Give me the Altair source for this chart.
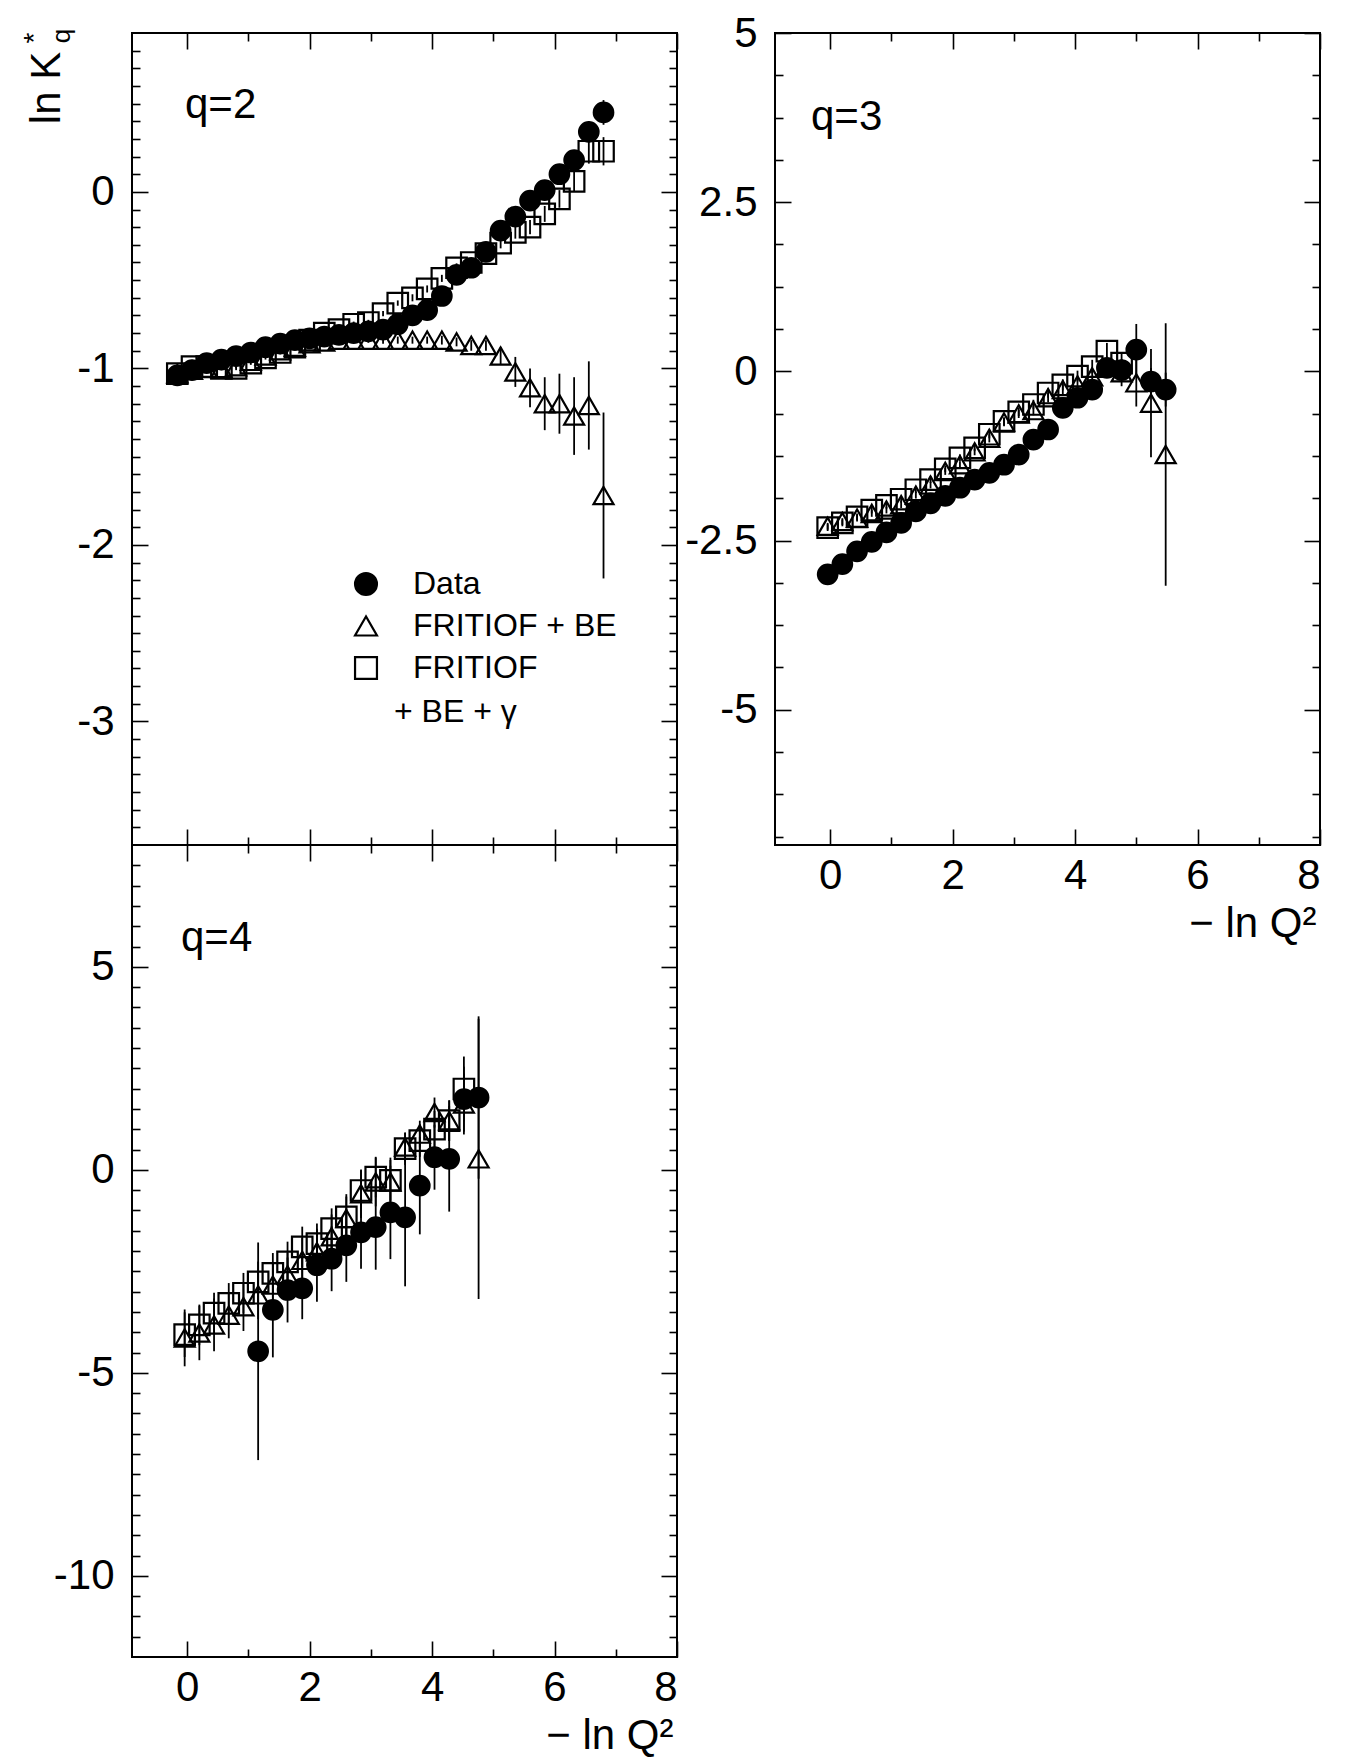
import altair as alt
import pandas as pd
import numpy as np

FONT = "Liberation Sans"

# ---- bins of -ln Q^2 ----
X = [-0.04, 0.20, 0.44, 0.68, 0.92, 1.16, 1.40, 1.64, 1.88, 2.12,
     2.36, 2.60, 2.84, 3.08, 3.32, 3.56, 3.80, 4.04, 4.28, 4.52,
     4.76, 5.00, 5.24, 5.48, 5.72, 5.96, 6.20, 6.44, 6.68, 6.92]
X_Q2 = [-0.16, 0.08, 0.32, 0.56, 0.80, 1.04, 1.28, 1.52, 1.76, 2.00,
        2.24, 2.48, 2.72, 2.96, 3.20, 3.44, 3.68, 3.92, 4.16, 4.40,
        4.64, 4.88, 5.12, 5.36, 5.60, 5.84, 6.08, 6.32, 6.56, 6.80]

SERIES = ["Data", "FRITIOF + BE", "FRITIOF + BE + γ"]

# ---- q = 2 ----
q2_data = [-1.04, -1.01, -0.97, -0.95, -0.93, -0.91, -0.88, -0.86, -0.84, -0.83,
           -0.82, -0.81, -0.80, -0.79, -0.78, -0.75, -0.70, -0.67, -0.59, -0.47,
           -0.43, -0.34, -0.22, -0.14, -0.05, 0.01, 0.10, 0.18, 0.34, 0.45]
q2_data_err = [0.01, 0.01, 0.01, 0.01, 0.01, 0.01, 0.01, 0.01, 0.01, 0.01,
               0.012, 0.012, 0.015, 0.015, 0.015, 0.02, 0.02, 0.02, 0.025, 0.025,
               0.03, 0.03, 0.035, 0.04, 0.04, 0.045, 0.05, 0.055, 0.06, 0.07]
q2_be = [-1.03, -1.01, -1.00, -1.00, -0.99, -0.96, -0.93, -0.90, -0.88, -0.86,
         -0.85, -0.84, -0.84, -0.84, -0.84, -0.84, -0.84, -0.84, -0.84, -0.85,
         -0.87, -0.87, -0.93, -1.02, -1.11, -1.20, -1.20, -1.27, -1.21, -1.72]
q2_be_err = [0.01, 0.01, 0.01, 0.01, 0.01, 0.01, 0.01, 0.012, 0.012, 0.012,
             0.015, 0.015, 0.015, 0.015, 0.02, 0.02, 0.02, 0.02, 0.025, 0.025,
             0.03, 0.03, 0.05, 0.085, 0.11, 0.15, 0.17, 0.22, 0.25, 0.47]
q2_beg = [-1.03, -0.99, -0.99, -1.00, -1.00, -0.97, -0.94, -0.91, -0.88, -0.84,
          -0.80, -0.78, -0.75, -0.74, -0.69, -0.63, -0.60, -0.55, -0.49, -0.43,
          -0.40, -0.35, -0.29, -0.23, -0.20, -0.125, -0.04, 0.06, 0.23, 0.23]
q2_beg_err = [0.01, 0.01, 0.01, 0.01, 0.01, 0.01, 0.01, 0.01, 0.01, 0.012,
              0.012, 0.012, 0.015, 0.015, 0.015, 0.015, 0.02, 0.02, 0.02, 0.025,
              0.025, 0.03, 0.03, 0.035, 0.04, 0.045, 0.05, 0.055, 0.07, 0.08]

# ---- q = 3 ----
q3_data = [-3.00, -2.85, -2.66, -2.52, -2.38, -2.24, -2.07, -1.95, -1.84, -1.72,
           -1.60, -1.50, -1.38, -1.23, -1.01, -0.86, -0.54, -0.39, -0.27, 0.05,
           0.02, 0.32, -0.15, -0.27]
q3_data_err = [0.09, 0.08, 0.08, 0.07, 0.07, 0.07, 0.07, 0.07, 0.07, 0.07,
               0.07, 0.07, 0.08, 0.08, 0.09, 0.09, 0.10, 0.10, 0.12, 0.12,
               0.15, 0.38, 0.20, 0.25]
q3_be = [-2.29, -2.22, -2.17, -2.10, -2.05, -1.97, -1.83, -1.68, -1.48, -1.38,
         -1.19, -0.99, -0.75, -0.63, -0.58, -0.39, -0.27, -0.20, -0.08, 0.07,
         -0.02, -0.17, -0.47, -1.23]
q3_be_err = [0.05, 0.05, 0.05, 0.05, 0.05, 0.05, 0.05, 0.05, 0.05, 0.05,
             0.05, 0.06, 0.06, 0.06, 0.07, 0.07, 0.08, 0.08, 0.10, 0.12,
             0.20, 0.35, 0.80, 1.94]
q3_beg = [-2.31, -2.24, -2.15, -2.05, -1.98, -1.89, -1.75, -1.60, -1.44, -1.28,
          -1.13, -0.93, -0.74, -0.60, -0.49, -0.32, -0.20, -0.07, 0.07, 0.30,
          0.12]
q3_beg_err = [0.05, 0.05, 0.05, 0.05, 0.05, 0.05, 0.05, 0.05, 0.05, 0.05,
              0.05, 0.06, 0.06, 0.06, 0.07, 0.07, 0.08, 0.08, 0.10, 0.12,
              0.15]

# ---- q = 4 (data start at the 6th bin) ----
q4_data_start = 5
q4_data = [-4.47, -3.45, -2.96, -2.92, -2.35, -2.19, -1.86, -1.54, -1.41, -1.05,
           -1.17, -0.39, 0.31, 0.27, 1.74, 1.78]
q4_data_err = [2.68, 1.17, 0.80, 0.76, 0.90, 0.80, 0.90, 0.90, 1.05, 1.15,
               1.70, 1.20, 0.80, 1.30, 0.80, 2.00]
q4_be = [-4.14, -4.02, -3.82, -3.58, -3.37, -3.08, -2.84, -2.59, -2.23, -2.02,
         -1.65, -1.20, -0.59, -0.30, -0.30, 0.56, 0.88, 1.41, 1.21, 1.62,
         0.27]
q4_be_err = [0.70, 0.67, 0.65, 0.57, 0.60, 0.60, 0.57, 0.55, 0.55, 0.53,
             0.55, 0.60, 0.60, 0.60, 0.60, 0.35, 0.33, 0.37, 0.50, 0.75,
             3.45]
q4_beg = [-4.06, -3.82, -3.53, -3.29, -3.04, -2.76, -2.55, -2.27, -1.90, -1.82,
          -1.45, -1.16, -0.51, -0.18, -0.26, 0.52, 0.72, 1.00, 1.21, 1.99]
q4_beg_err = [0.55, 0.50, 0.50, 0.50, 0.50, 0.50, 0.50, 0.50, 0.50, 0.50,
              0.50, 0.50, 0.50, 0.50, 0.50, 0.40, 0.40, 0.45, 0.50, 0.80]

# ---- axes ----
X_DOMAIN = [-0.9, 8]
X_MAJOR = [0, 2, 4, 6, 8]
X_MINOR = [1, 3, 5, 7]
Y2_DOMAIN, Y2_MAJOR, Y2_STEP, Y2_MINOR_STEP = [-3.7, 0.9], [-3, -2, -1, 0], 1.0, 0.1
Y3_DOMAIN, Y3_MAJOR, Y3_STEP, Y3_MINOR_STEP = [-7, 5], [-5, -2.5, 0, 2.5, 5], 2.5, 0.625
Y4_DOMAIN, Y4_MAJOR, Y4_STEP, Y4_MINOR_STEP = [-12, 8], [-10, -5, 0, 5], 5.0, 0.5

W, H = 545, 812
MAJ, MIN = 16, 8


def build_df(xgrid, data, data_err, data_start, be, be_err, beg, beg_err):
    rows = []
    for name, ys, es, start in [(SERIES[2], beg, beg_err, 0),
                                (SERIES[1], be, be_err, 0),
                                (SERIES[0], data, data_err, data_start)]:
        for k, (y, e) in enumerate(zip(ys, es)):
            rows.append({"x": xgrid[start + k], "y": y, "lo": y - e, "hi": y + e, "series": name})
    return pd.DataFrame(rows)


def minor_ticks(domain, step):
    vals = np.arange(np.ceil(domain[0] / step) * step, domain[1], step)
    return [round(float(v), 4) for v in vals if domain[0] < v < domain[1]]


def tick_axis(orient, offset, values, test, maj, mnr):
    return alt.Axis(orient=orient, offset=offset, values=values, labels=False,
                    domain=False, grid=False, title=None, ticks=True,
                    tickColor="black", tickWidth=1.6,
                    tickSize={"condition": {"test": test, "value": maj}, "value": mnr})


def panel(df, ydom, ymajor, ystep, yminstep, show_x, qlabel, qpos, legend, extra=()):
    xs = alt.Scale(domain=X_DOMAIN, nice=False, zero=False)
    ys = alt.Scale(domain=ydom, nice=False, zero=False)
    yvals = sorted(set(ymajor) | set(minor_ticks(ydom, yminstep)))
    xvals = X_MAJOR + X_MINOR
    xtest = "abs(datum.value % 2) < 0.001"
    ytest = f"abs(datum.value / {ystep} - round(datum.value / {ystep})) < 0.001"

    if show_x:
        x_lab = alt.Axis(orient="bottom", values=X_MAJOR, ticks=False, tickSize=0, domain=False,
                         grid=False, labelFont=FONT, labelFontSize=42, labelColor="black",
                         labelPadding=10, labelExpr="toString(datum.value)",
                         title="− ln Q²", titleFont=FONT, titleFontSize=42,
                         titleFontWeight="normal", titleColor="black",
                         titleAnchor="end", titleAlign="right", titleBaseline="middle",
                         titleX=W - 4, titleY=78)
    else:
        x_lab = None
    y_lab = alt.Axis(orient="left", values=ymajor, ticks=False, tickSize=0, domain=False,
                     grid=False, labelFont=FONT, labelFontSize=42, labelColor="black",
                     labelPadding=18, labelExpr="toString(datum.value)", title=None)

    base = alt.Chart(df)
    rules = base.mark_rule(color="black", strokeWidth=1.8).encode(
        x=alt.X("x:Q", scale=xs, axis=x_lab),
        y=alt.Y("lo:Q", scale=ys, axis=y_lab),
        y2="hi:Q",
    )
    points = base.mark_point(opacity=1, strokeWidth=2.2).encode(
        x=alt.X("x:Q", scale=xs, axis=tick_axis("top", -H, xvals, xtest, MAJ, MIN)),
        y=alt.Y("y:Q", scale=ys, axis=tick_axis("right", -W, yvals, ytest, MAJ, MIN)),
        shape=alt.Shape("series:N", scale=alt.Scale(domain=SERIES, range=["circle", "triangle-up", "square"]),
                        legend=legend),
        fill=alt.Fill("series:N", scale=alt.Scale(domain=SERIES, range=["black", "transparent", "transparent"]),
                      legend=legend),
        stroke=alt.Stroke("series:N", scale=alt.Scale(domain=SERIES, range=["black", "black", "black"]),
                          legend=legend),
        size=alt.Size("series:N", scale=alt.Scale(domain=SERIES, range=[380, 420, 360]), legend=None),
    )
    ghost = base.mark_point(opacity=0).encode(
        x=alt.X("x:Q", scale=xs, axis=tick_axis("bottom", -H, xvals, xtest, MAJ, MIN)),
        y=alt.Y("y:Q", scale=ys, axis=tick_axis("left", -W, yvals, ytest, MAJ, MIN)),
    )
    qtext = alt.Chart(pd.DataFrame({"t": [qlabel]})).mark_text(
        font=FONT, fontSize=42, align="left", baseline="alphabetic", color="black"
    ).encode(text="t:N", x=alt.value(qpos[0]), y=alt.value(qpos[1]))
    return alt.layer(rules, points, ghost, qtext, *extra).resolve_axis(
        x="independent", y="independent").properties(width=W, height=H)


df2 = build_df(X_Q2, q2_data, q2_data_err, 0, q2_be, q2_be_err, q2_beg, q2_beg_err)
df3 = build_df(X, q3_data, q3_data_err, 0, q3_be, q3_be_err, q3_beg, q3_beg_err)
df4 = build_df(X, q4_data, q4_data_err, q4_data_start, q4_be, q4_be_err, q4_beg, q4_beg_err)

legend = alt.Legend(orient="none", legendX=218, legendY=535, title=None,
                    labelFont=FONT, labelFontSize=32, labelColor="black", labelLimit=0,
                    symbolSize=480, symbolStrokeColor="black", symbolStrokeWidth=2.2,
                    rowPadding=10, padding=0, labelOffset=31,
                    labelExpr="datum.label == 'FRITIOF + BE + γ' ? 'FRITIOF' : datum.label")

legend_line2 = alt.Chart(pd.DataFrame({"t": ["+ BE + γ"]})).mark_text(
    font=FONT, fontSize=32, align="left", baseline="middle", color="black"
).encode(text="t:N", x=alt.value(262), y=alt.value(679))

ylab_main = alt.Chart(pd.DataFrame({"t": ["ln K"]})).mark_text(
    font=FONT, fontSize=42, angle=270, align="center", baseline="middle", color="black"
).encode(text="t:N", x=alt.value(-85), y=alt.value(55))
ylab_star = alt.Chart(pd.DataFrame({"t": ["*"]})).mark_text(
    font=FONT, fontSize=28, angle=270, align="center", baseline="middle", color="black"
).encode(text="t:N", x=alt.value(-97), y=alt.value(5))
ylab_sub = alt.Chart(pd.DataFrame({"t": ["q"]})).mark_text(
    font=FONT, fontSize=26, angle=270, align="center", baseline="middle", color="black"
).encode(text="t:N", x=alt.value(-70), y=alt.value(3))

p1 = panel(df2, Y2_DOMAIN, Y2_MAJOR, Y2_STEP, Y2_MINOR_STEP, False, "q=2", (53, 85), legend,
           extra=(legend_line2, ylab_main, ylab_star, ylab_sub))
p3 = panel(df4, Y4_DOMAIN, Y4_MAJOR, Y4_STEP, Y4_MINOR_STEP, True, "q=4", (49, 106), None)
p2 = panel(df3, Y3_DOMAIN, Y3_MAJOR, Y3_STEP, Y3_MINOR_STEP, True, "q=3", (36, 97), None)

chart = alt.concat(p1, p2, p3, columns=2, spacing={"row": 0, "column": 98},
                   bounds="flush").resolve_legend(
    shape="independent", fill="independent", stroke="independent"
).properties(
    padding={"left": 12, "top": 3, "right": 0, "bottom": 0},
    background="white",
).configure_view(stroke="black", strokeWidth=2)

chart.save("out.html", embed_options={"renderer": "svg", "actions": False})
